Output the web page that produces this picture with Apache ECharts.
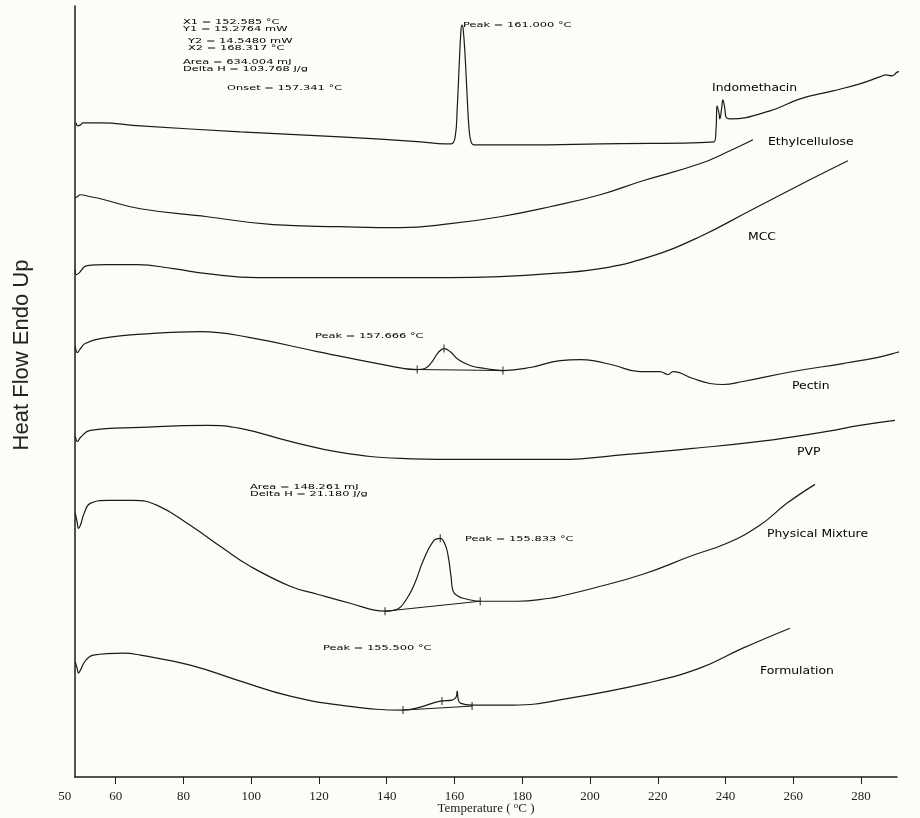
<!DOCTYPE html>
<html>
<head>
<meta charset="utf-8">
<script src="https://cdn.jsdelivr.net/npm/echarts@6/dist/echarts.min.js"></script>
<style>
html,body{margin:0;padding:0;background:#fcfdf9;}
#chart{width:920px;height:818px;}
</style>
</head>
<body>
<div id="chart"></div>
<script>
// Temperature (°C) vs heat flow (arbitrary units, curves offset vertically)
const xTickValues = [60, 80, 100, 120, 140, 160, 180, 200, 220, 240, 260, 280];
const xLabelValues = [50, 60, 80, 100, 120, 140, 160, 180, 200, 220, 240, 260, 280];

const indomethacin = [[48.4,655],[48.7,652],[49.6,653],[50.4,655],[55.5,655],[67.3,652],[96.8,646],[126.3,641],[150.0,636],[157.2,634],[159.0,634],[160.2,641],[160.8,669],[161.4,714],[161.9,747],[162.2,753],[162.5,751],[163.1,724],[163.7,684],[164.3,649],[164.9,636],[165.8,633],[180.0,633],[203.0,634],[236.6,636],[237.2,649],[237.5,672],[238.1,664],[238.3,659],[238.9,671],[239.2,678],[239.8,669],[240.1,661],[241.3,659],[253.1,667],[262.0,679],[271.7,687],[279.6,694],[285.5,701],[287.3,703],[289.1,702],[290.8,706],[292.9,707],[294.9,709],[296.7,711]];
const ethylcellulose = [[48.1,580],[48.7,581],[49.6,583],[52.5,581],[55.5,579],[67.3,569],[87.0,561],[106.5,553],[126.3,551],[144.0,550],[158.7,554],[173.5,561],[188.2,571],[203.0,583],[215.6,597],[232.4,614],[241.3,627],[248.1,638]];
const mcc = [[48.1,508],[48.4,503],[49.0,504],[51.6,512],[57.5,513],[66.4,513],[77.0,509],[87.0,504],[101.8,500],[126.3,500],[158.7,500],[173.5,501],[188.2,504],[203.0,509],[217.7,521],[232.4,541],[247.2,567],[262.0,593],[276.1,617]];
const pectin = [[48.1,431],[48.7,425],[49.6,429],[51.0,434],[55.5,439],[70.2,444],[85.0,446],[99.7,440],[119.5,426],[138.9,413],[149.0,408],[151.3,409],[153.4,416],[155.2,425],[156.9,429],[158.7,426],[161.1,418],[164.6,412],[169.0,409],[174.3,407],[182.3,410],[191.2,417],[197.1,418],[200.9,417],[207.3,412],[214.7,406],[220.6,406],[223.0,403],[224.5,406],[230.4,399],[235.4,394],[239.2,393],[245.1,396],[259.9,406],[274.6,414],[284.7,420],[289.4,424],[297.3,432]];
const pvp = [[48.1,341],[48.7,336],[49.6,340],[52.5,347],[67.3,350],[87.0,352],[96.8,349],[111.5,336],[126.3,325],[144.0,319],[158.7,318],[173.5,318],[191.2,318],[210.9,323],[230.4,329],[250.1,336],[270.0,346],[279.6,352],[290.0,357]];
const physicalMixture = [[48.1,264],[48.7,254],[49.0,249],[49.6,252],[50.7,264],[52.5,274],[57.5,277],[65.2,277],[72.3,272],[82.0,252],[91.7,229],[99.7,211],[111.5,191],[119.5,183],[129.2,174],[139.5,166],[143.1,168],[146.0,179],[148.4,195],[150.7,216],[153.7,236],[155.8,239],[157.2,233],[158.1,222],[159.0,200],[159.6,186],[161.1,181],[162.5,179],[167.6,176],[178.5,176],[188.2,179],[191.2,181],[200.9,189],[215.6,203],[230.4,222],[240.4,234],[250.1,252],[258.1,274],[266.4,293]];
const formulation = [[48.1,115],[48.7,108],[49.0,104],[49.6,107],[51.0,116],[53.4,122],[62.2,124],[67.3,122],[82.0,112],[96.8,96],[111.5,81],[126.3,72],[144.8,67],[149.9,70],[155.8,76],[159.3,77],[160.5,80],[160.8,86],[161.1,78],[161.7,74],[165.2,72],[177.3,72],[194.1,79],[216.8,94],[232.4,109],[245.1,129],[259.0,149]];

const pectinBaseline = [[149.0,408],[174.3,407]];
const mixtureBaseline = [[139.5,166],[167.6,176]];
const formulationBaseline = [[144.8,67],[165.2,71]];
const integrationMarks = [[149.0,408],[174.3,407],[156.9,429],[139.5,166],[167.6,176],[155.8,239],[144.8,67],[165.2,71],[156.3,76]];

const lineColor = '#1a1a1a';
function curve(name, data, width, smooth) {
  return {
    name: name, type: 'line', data: data, showSymbol: false, symbol: 'none',
    smooth: smooth === undefined ? 0.45 : smooth, clip: false, silent: true,
    lineStyle: { color: lineColor, width: width || 1.2 }
  };
}

// annotation texts: [text, x, y, kind]
const annotations = [
  ['X1 = 152.585 °C', 183, 22, 's'],
  ['Y1 = 15.2764 mW', 183, 29, 's'],
  ['Y2 = 14.5480 mW', 188, 41, 's'],
  ['X2 = 168.317 °C', 188, 48, 's'],
  ['Area = 634.004 mJ', 183, 62, 's'],
  ['Delta H = 103.768 J/g', 183, 69, 's'],
  ['Onset = 157.341 °C', 227, 88, 's'],
  ['Peak = 161.000 °C', 463, 25, 's'],
  ['Indomethacin', 712, 88, 'n'],
  ['Ethylcellulose', 768, 142, 'n'],
  ['MCC', 748, 237, 'n'],
  ['Peak = 157.666 °C', 315, 336, 's'],
  ['Pectin', 792, 386, 'n'],
  ['PVP', 797, 452, 'n'],
  ['Area = 148.261 mJ', 250, 487, 's'],
  ['Delta H = 21.180 J/g', 250, 494, 's'],
  ['Peak = 155.833 °C', 465, 539, 's'],
  ['Physical Mixture', 767, 534, 'n'],
  ['Peak = 155.500 °C', 323, 648, 's'],
  ['Formulation', 760, 671, 'n']
];

const graphics = annotations.map(function (a) {
  const small = a[3] === 's';
  return {
    type: 'text', x: a[1], y: a[2], scaleX: small ? 1.27 : 1.24, scaleY: small ? 0.85 : 1, silent: true,
    style: { text: a[0], font: small ? '9px "DejaVu Sans"' : '500 10px "DejaVu Sans"', fill: '#000',
      verticalAlign: 'middle', align: 'left' }
  };
});
// y-axis title
graphics.push({
  type: 'text', x: 22, y: 355, rotation: Math.PI / 2, silent: true,
  style: { text: 'Heat Flow Endo Up', font: '22px "Liberation Sans"', fill: '#222',
    align: 'center', verticalAlign: 'middle' }
});

const chart = echarts.init(document.getElementById('chart'));
chart.setOption({
  backgroundColor: '#fcfdf9',
  animation: false,
  grid: { left: 75, right: 23, top: 6, bottom: 41, outerBoundsMode: 'none', containLabel: false },
  xAxis: {
    type: 'value', min: 48, max: 290.6,
    splitLine: { show: false },
    axisLine: { show: true, lineStyle: { color: lineColor, width: 1.5 } },
    axisTick: { show: true, customValues: xTickValues, length: 7, lineStyle: { color: lineColor, width: 1 } },
    axisLabel: { customValues: xLabelValues, margin: 13, color: '#222', fontFamily: 'Liberation Serif', fontSize: 13,
      formatter: function (v) { return v === 50 ? '{l|50}' : String(v); },
      rich: { l: { fontFamily: 'Liberation Serif', fontSize: 13, color: '#222', padding: [0, 34, 0, 0] } } },
    name: 'Temperature ( {s|o}C )', nameLocation: 'middle', nameGap: 24, nameMoveOverlap: false,
    nameTextStyle: { fontFamily: 'Liberation Serif', fontSize: 13, color: '#222',
      rich: { s: { fontFamily: 'Liberation Serif', fontSize: 9, verticalAlign: 'top', padding: [0, 0, 7, 0] } } }
  },
  yAxis: {
    type: 'value', min: 0, max: 772,
    splitLine: { show: false },
    axisLine: { show: true, lineStyle: { color: lineColor, width: 1.5 } },
    axisTick: { show: false }, axisLabel: { show: false }
  },
  series: [
    curve('Indomethacin', indomethacin),
    curve('Ethylcellulose', ethylcellulose),
    curve('MCC', mcc),
    curve('Pectin', pectin),
    curve('PVP', pvp),
    curve('Physical Mixture', physicalMixture),
    curve('Formulation', formulation),
    curve('Pectin baseline', pectinBaseline, 1, 0),
    curve('Physical Mixture baseline', mixtureBaseline, 1, 0),
    curve('Formulation baseline', formulationBaseline, 1, 0),
    { type: 'scatter', data: integrationMarks, symbol: 'rect', symbolSize: [1.2, 8], silent: true,
      itemStyle: { color: lineColor } }
  ],
  graphic: graphics
});
</script>
</body>
</html>
